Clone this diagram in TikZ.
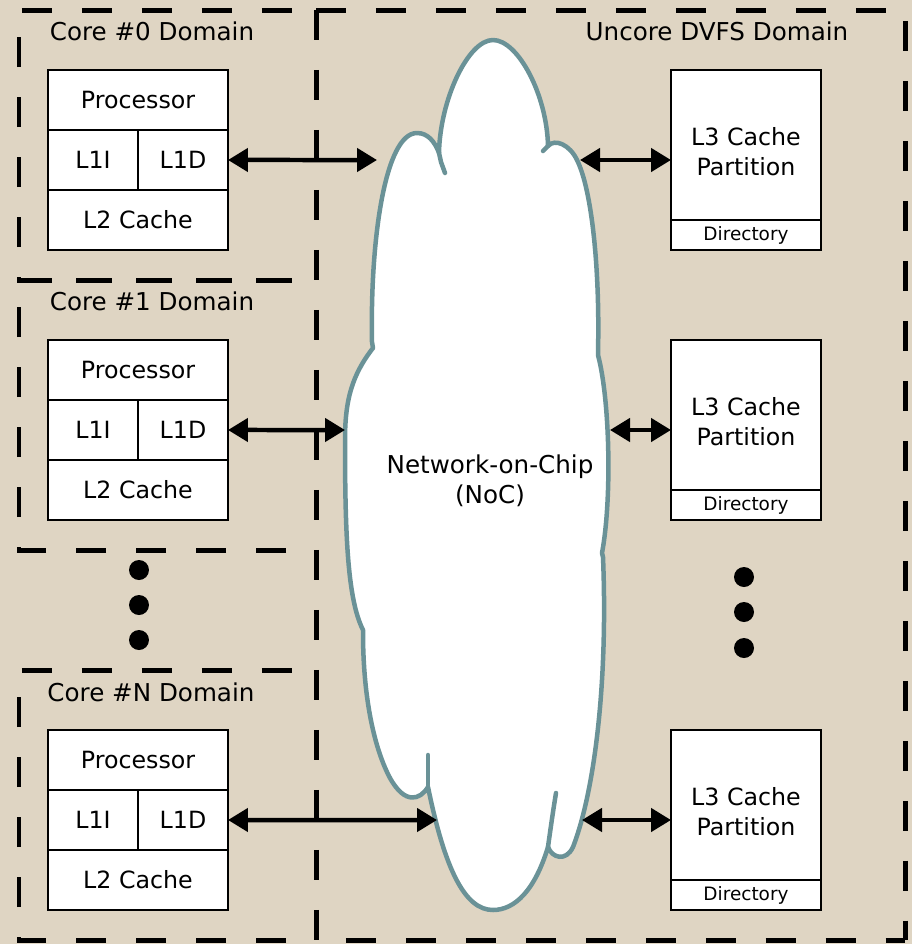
\documentclass[tikz,border=0pt]{standalone}
\usepackage{fontspec}
\setmainfont{DejaVu Sans}
\usepackage{tikz}
\usetikzlibrary{arrows.meta,positioning}
\definecolor{ncBg}{HTML}{DFD5C3}
\definecolor{ncEdge}{HTML}{6A9297}
\definecolor{ncInk}{HTML}{000000}
\newcommand{\lowstrut}{\rule{0pt}{18pt}}
\tikzset{
  % Cell of a core block
  cellbox/.style={rectangle,draw=ncInk,fill=white,line width=0.045cm,
    minimum height=1.2cm,inner sep=0pt,outer sep=0pt,
    font=\fontsize{13.5}{17}\selectfont},
  % L3 partition box
  l3box/.style={cellbox,minimum width=3cm,minimum height=3cm,align=center},
  % Directory strip
  dirbox/.style={cellbox,minimum width=3cm,minimum height=0.6cm,
    font=\fontsize{10.5}{12}\selectfont},
  % Dashed domain border
  domline/.style={line width=0.1cm,dash pattern=on 0.6cm off 0.6cm},
  % Domain title
  domlbl/.style={font=\fontsize{14}{17}\selectfont,inner sep=0pt},
  % Cloud outline
  cloudline/.style={draw=ncEdge,fill=white,line width=0.09cm,line join=round},
  tail/.style={draw=ncEdge,line width=0.09cm,line cap=round},
  % Ellipsis dot
  dot/.style={circle,fill=ncInk,minimum size=0.4cm,inner sep=0pt},
  % Two-headed link
  biarr/.style={{Triangle[length=0.4cm,width=0.46cm]}-{Triangle[length=0.4cm,width=0.46cm]},
    line width=0.09cm,color=ncInk},
}
\begin{document}
\begin{tikzpicture}[x=0.02cm,y=-0.02cm]
  \fill[ncBg] (0,0) rectangle (912,944);
  \useasboundingbox (0,0) rectangle (912,944);

  % domains
  \draw[domline,dash phase=0.6cm] (316,280) -- (19,280) -- (19,10) -- (316,10);
  \draw[domline,dash phase=0.6cm] (316,550) -- (19,550) -- (19,280) -- (316,280);
  \draw[domline,dash phase=0.6cm] (316,940) -- (19,940) -- (19,670) -- (316,670);
  \draw[domline] (316,10) -- (905,10) -- (905,940);
  \draw[domline] (316,10) -- (316,940) -- (905,940);
  \node[domlbl] (d0) at (152,31) {Core \#0 Domain};
  \node[domlbl] (d1) at (152,301) {Core \#1 Domain};
  \node[domlbl] (dn) at (151,692) {Core \#N Domain};
  \node[domlbl] (du) at (717,31) {Uncore DVFS Domain};

  % network-on-chip cloud
  \draw[cloudline] (439,153)
    .. controls (440,100) and (468,40) .. (493,40)
    .. controls (518,40) and (547,95) .. (548,146)
    .. controls (555,138) and (570,145) .. (577,160)
    .. controls (592,190) and (600,270) .. (598,353)
    -- (598,355) .. controls (610,400) and (612,500) .. (602,553)
    -- (603,557) .. controls (608,680) and (595,790) .. (573,847)
    .. controls (566,862) and (552,858) .. (548,847)
    .. controls (535,890) and (515,910) .. (493,910)
    .. controls (465,910) and (445,870) .. (428,787)
    .. controls (420,800) and (405,805) .. (390,778)
    .. controls (375,750) and (363,700) .. (363,632)
    -- (363,630) .. controls (348,600) and (345,540) .. (345,440)
    .. controls (345,400) and (352,375) .. (373,348)
    -- (372,342) .. controls (370,240) and (385,133) .. (417,133)
    .. controls (428,133) and (435,142) .. (439,153)
    -- cycle;
  \draw[tail] (439,153) -- (441,162) -- (445,173);
  \draw[tail] (548,146) -- (543,151);
  \draw[tail] (428,787) -- (428,755);
  \draw[tail] (548,847) .. controls (551,825) and (554,805) .. (556,793);
  \node[align=center,font=\fontsize{14}{17}\selectfont] (noc) at (490,481)
    {Network-on-Chip\\(NoC)};
  \coordinate (nocw0) at (377,160);
  \coordinate (nocw1) at (345,430);
  \coordinate (nocwn) at (437,820);
  \coordinate (noce0) at (580,160);
  \coordinate (noce1) at (610,430);
  \coordinate (nocen) at (582,820);

  % core 0
  \node[cellbox,minimum width=3.6cm] (proc0) at (138,100) {Processor};
  \node[cellbox,minimum width=1.8cm,below=0pt of proc0.south west,anchor=north west] (l1i0) {L1I};
  \node[cellbox,minimum width=1.8cm,right=0pt of l1i0] (l1d0) {L1D};
  \node[cellbox,minimum width=3.6cm,below=0pt of l1i0.south west,anchor=north west] (l2c0) {L2 Cache};
  % core 1
  \node[cellbox,minimum width=3.6cm] (proc1) at (138,370) {Processor};
  \node[cellbox,minimum width=1.8cm,below=0pt of proc1.south west,anchor=north west] (l1i1) {L1I};
  \node[cellbox,minimum width=1.8cm,right=0pt of l1i1] (l1d1) {L1D};
  \node[cellbox,minimum width=3.6cm,below=0pt of l1i1.south west,anchor=north west] (l2c1) {L2 Cache};
  % core N
  \node[cellbox,minimum width=3.6cm] (procn) at (138,760) {Processor};
  \node[cellbox,minimum width=1.8cm,below=0pt of procn.south west,anchor=north west] (l1in) {L1I};
  \node[cellbox,minimum width=1.8cm,right=0pt of l1in] (l1dn) {L1D};
  \node[cellbox,minimum width=3.6cm,below=0pt of l1in.south west,anchor=north west] (l2cn) {L2 Cache};

  % L3 partitions
  \node[l3box] (l3c0) at (746,145) {\lowstrut L3 Cache\\Partition};
  \node[dirbox,below=0pt of l3c0] (dir0) {Directory};
  \node[l3box] (l3c1) at (746,415) {\lowstrut L3 Cache\\Partition};
  \node[dirbox,below=0pt of l3c1] (dir1) {Directory};
  \node[l3box] (l3cn) at (746,805) {\lowstrut L3 Cache\\Partition};
  \node[dirbox,below=0pt of l3cn] (dirn) {Directory};

  % ellipses
  \node[dot] (lv1) at (139,570) {};
  \node[dot] (lv2) at (139,605) {};
  \node[dot] (lv3) at (139,640) {};
  \node[dot] (rv1) at (744,577) {};
  \node[dot] (rv2) at (744,612) {};
  \node[dot] (rv3) at (744,648) {};

  \draw[biarr] (l1d0.east) -- (nocw0);
  \draw[biarr] (l1d1.east) -- (nocw1);
  \draw[biarr] (l1dn.east) -- (nocwn);
  \draw[biarr] (noce0) -- (noce0 -| l3c0.west);
  \draw[biarr] (noce1) -- (noce1 -| l3c1.west);
  \draw[biarr] (nocen) -- (nocen -| l3cn.west);
\end{tikzpicture}
\end{document}
